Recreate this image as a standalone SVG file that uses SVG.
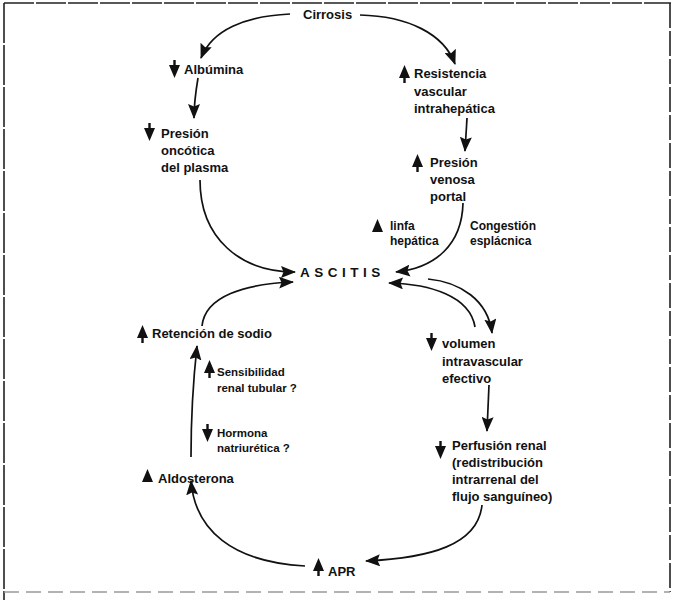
<svg xmlns="http://www.w3.org/2000/svg" xmlns:xlink="http://www.w3.org/1999/xlink" width="675" height="603" viewBox="0 0 675 603">
<defs>
<style>
text{font-family:"Liberation Sans",Arial,sans-serif;font-weight:bold;fill:#111;}
.m{font-size:13px;}
.s{font-size:12px;}
.xs{font-size:11.5px;}
.asc{font-size:13.5px;letter-spacing:4.5px;}
.c{fill:none;stroke:#111;stroke-width:1.7;}
.sym{fill:#111;}
.frame{stroke:#222;stroke-width:1.6;fill:none;}
</style>
<marker id="ah" viewBox="0 0 15 12" refX="14" refY="6" markerWidth="15" markerHeight="12" markerUnits="userSpaceOnUse" orient="auto">
<path d="M0,0 L15,6 L0,12 L2.5,6 Z" fill="#111"/>
</marker>
<path id="up" d="M5.5,0 L11,13 L0,13 Z M4.3,12 h2.4 v6 h-2.4 Z"/>
<path id="down" d="M4.3,0 h2.4 v6 h-2.4 Z M0,5 L11,5 L5.5,18 Z"/>
<path id="tri" d="M5.5,0 L11,13 L0,13 Z"/>
</defs>
<rect width="675" height="603" fill="#fff"/>
<g id="frame">
<line class="frame" x1="4" y1="3" x2="671" y2="3" stroke-dasharray="30 2"/>
<line class="frame" x1="4" y1="3" x2="4" y2="600" stroke-dasharray="40 2"/>
<line class="frame" x1="670" y1="3" x2="670" y2="592" stroke-dasharray="25 3"/>
<line x1="4" y1="592" x2="670" y2="592" stroke="#999" stroke-width="1.6" stroke-dasharray="15 7"/>
</g>
<g id="connectors">
<path class="c" marker-end="url(#ah)" d="M290,14 C245,16 212,30 201,58"/>
<path class="c" marker-end="url(#ah)" d="M360,15 C408,16 444,34 455,64"/>
<path class="c" marker-end="url(#ah)" d="M198,78 C196,90 194,102 194,118"/>
<path class="c" marker-end="url(#ah)" d="M200,180 C200,238 240,272 295,272"/>
<path class="c" marker-end="url(#ah)" d="M202,326 C205,296 245,284 293,282"/>
<path class="c" marker-end="url(#ah)" d="M191,457 C191,420 193,382 197,346"/>
<path class="c" marker-end="url(#ah)" d="M305,566 C232,562 195,530 191,481"/>
<path class="c" marker-end="url(#ah)" d="M467,118 L465,151"/>
<path class="c" marker-end="url(#ah)" d="M463,203 C462,245 435,268 396,272"/>
<path class="c" marker-end="url(#ah)" d="M475,327 C470,296 430,284 389,283"/>
<path class="c" marker-end="url(#ah)" d="M428,279 C460,282 488,300 492,333"/>
<path class="c" marker-end="url(#ah)" d="M489,385 L487,431"/>
<path class="c" marker-end="url(#ah)" d="M482,505 C478,545 430,558 366,561"/>
</g>
<g id="cirrosis"><text class="m" x="303" y="19">Cirrosis</text></g>
<g id="albumina"><use href="#down" class="sym" x="169" y="60"/><text class="m" x="184" y="74">Albúmina</text></g>
<g id="presion-oncotica"><use href="#down" class="sym" x="144" y="123"/>
<text class="m" x="161" y="138">Presión</text><text class="m" x="161" y="155">oncótica</text><text class="m" x="161" y="172">del plasma</text></g>
<g id="resistencia"><use href="#up" class="sym" x="399" y="65"/>
<text class="m" x="414" y="78">Resistencia</text><text class="m" x="414" y="96">vascular</text><text class="m" x="414" y="113">intrahepática</text></g>
<g id="presion-venosa"><use href="#up" class="sym" x="412" y="154"/>
<text class="m" x="430" y="167">Presión</text><text class="m" x="430" y="184">venosa</text><text class="m" x="430" y="201">portal</text></g>
<g id="linfa"><use href="#tri" class="sym" x="372" y="219"/>
<text class="s" x="390" y="230">linfa</text><text class="s" x="390" y="245">hepática</text></g>
<g id="congestion"><text class="s" x="470" y="230">Congestión</text><text class="s" x="470" y="245">esplácnica</text></g>
<g id="ascitis"><text class="asc" x="300" y="277">ASCITIS</text></g>
<g id="retencion"><use href="#up" class="sym" x="137" y="325"/><text class="m" x="152" y="338">Retención de sodio</text></g>
<g id="sensibilidad"><use href="#up" class="sym" x="204" y="360"/>
<text class="xs" x="217" y="376">Sensibilidad</text><text class="xs" x="217" y="392">renal tubular ?</text></g>
<g id="hormona"><use href="#down" class="sym" x="202" y="424"/>
<text class="xs" x="217" y="437">Hormona</text><text class="xs" x="217" y="452">natriurética ?</text></g>
<g id="aldosterona"><use href="#tri" class="sym" x="142" y="469"/><text class="m" x="158" y="483">Aldosterona</text></g>
<g id="apr"><use href="#up" class="sym" x="313" y="558"/><text class="m" x="328" y="576">APR</text></g>
<g id="volumen"><use href="#down" class="sym" x="426" y="333"/>
<text class="m" x="442" y="348">volumen</text><text class="m" x="442" y="366">intravascular</text><text class="m" x="442" y="383">efectivo</text></g>
<g id="perfusion"><use href="#down" class="sym" x="435" y="441"/>
<text class="m" x="452" y="450">Perfusión renal</text><text class="m" x="452" y="467">(redistribución</text><text class="m" x="452" y="484">intrarrenal del</text><text class="m" x="452" y="501">flujo sanguíneo)</text></g>
</svg>
